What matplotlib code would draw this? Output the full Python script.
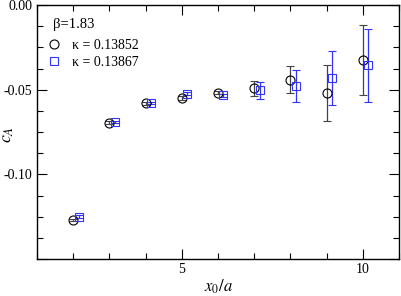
import matplotlib
matplotlib.use('Agg')
import matplotlib.pyplot as plt
from matplotlib.lines import Line2D
from matplotlib.ticker import MultipleLocator

# data
x_k1 = [2, 3, 4, 5, 6, 7, 8, 9, 10]
c_k1 = [-0.1269, -0.0694, -0.0580, -0.0549, -0.0517, -0.0492, -0.0441, -0.0519, -0.0325]
e_k1 = [0.0008, 0.0008, 0.0008, 0.0009, 0.0010, 0.0044, 0.0078, 0.0165, 0.0206]

x_k2 = [2.15, 3.15, 4.15, 5.15, 6.15, 7.15, 8.15, 9.15, 10.15]
c_k2 = [-0.1251, -0.0690, -0.0578, -0.0525, -0.0533, -0.0504, -0.0476, -0.0429, -0.0355]
e_k2 = [0.0008, 0.0008, 0.0008, 0.0009, 0.0010, 0.0051, 0.0094, 0.0159, 0.0216]

plt.rcParams['font.family'] = ['Liberation Serif', 'DejaVu Serif']
plt.rcParams['mathtext.fontset'] = 'stix'

fig = plt.figure(figsize=(4.01, 2.96), dpi=100)
ax = fig.add_axes([0.0923, 0.125, 0.903, 0.858])

ax.errorbar(x_k1, c_k1, yerr=e_k1, fmt='o', mfc='none', mec='black', ecolor='#444444',
            ms=6.5, mew=0.8, elinewidth=0.9, capsize=3, capthick=0.9)
ax.errorbar(x_k2, c_k2, yerr=e_k2, fmt='s', mfc='none', mec='#3333ff', ecolor='#3333ff',
            ms=6, mew=0.8, elinewidth=0.9, capsize=3, capthick=0.9)

ax.set_xlim(1, 11)
ax.set_ylim(-0.15, 0.0)
ax.xaxis.set_minor_locator(MultipleLocator(1))
ax.yaxis.set_minor_locator(MultipleLocator(0.0125))
ax.set_yticks([-0.15, -0.10, -0.05, 0.0])
ax.set_yticklabels(['', '-0.10', '-0.05', '0.00'])
ax.set_xticks([5, 10])
ax.set_xticklabels(['5', '10'])

ax.tick_params(which='both', direction='in', top=True, right=True, labelsize=10, width=0.8)
ax.tick_params(which='major', length=7)
ax.tick_params(which='minor', length=4)
ax.tick_params(axis='x', pad=3)
for s in ax.spines.values():
    s.set_linewidth(1.0)

ax.set_xlabel(r'$x_0/a$', fontsize=12)
ax.xaxis.set_label_coords(0.5, -0.075)
ax.set_ylabel(r'$c_A$', fontsize=13)
ax.yaxis.set_label_coords(-0.058, 0.49)

ax.text(0.045, 0.925, u'\u03b2=1.83', transform=ax.transAxes, fontsize=10.5, va='center')
handles = [
    Line2D([], [], ls='none', marker='o', mfc='none', mec='black', ms=6.5, mew=0.8),
    Line2D([], [], ls='none', marker='s', mfc='none', mec='#3333ff', ms=6, mew=0.8),
]
labels = [u'\u03ba = 0.13852', u'\u03ba = 0.13867']
ax.legend(handles, labels, loc='upper left', bbox_to_anchor=(0.0, 0.905), frameon=False,
          fontsize=10, handlelength=1.0, handletextpad=0.8, labelspacing=0.3, borderaxespad=0.3)

fig.savefig('out.png', dpi=100)
